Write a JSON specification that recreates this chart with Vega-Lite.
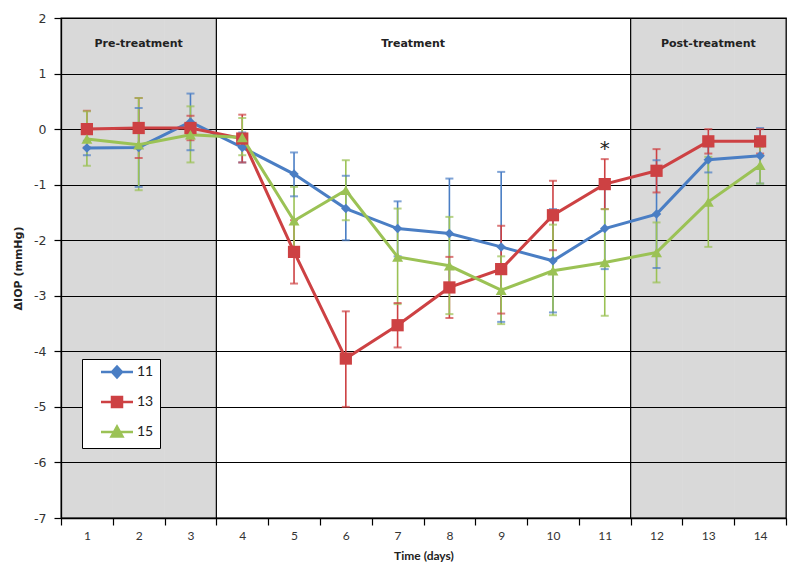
{
  "$schema": "https://vega.github.io/schema/vega-lite/v6.json",
  "width": 725,
  "height": 500,
  "autosize": "none",
  "padding": {"left": 61, "top": 18, "right": 14, "bottom": 58},
  "background": "white",
  "config": {
    "view": {"stroke": "black", "strokeWidth": 1.3},
    "axis": {"domainColor": "black", "tickColor": "black", "labelColor": "#333333", "titleColor": "#222222"},
    "legend": {
      "orient": "none", "legendX": 21, "legendY": 341,
      "fillColor": "white", "strokeColor": "black", "padding": 6,
      "symbolSize": 100, "symbolOffset": 22, "labelOffset": 13, "rowPadding": 9,
      "symbolStrokeWidth": 2.5, "symbolOpacity": 1,
      "labelFont": "Lato", "labelFontSize": 14, "labelColor": "#222222"
    }
  },
  "datasets": {
    "series": [
      {"day": 1, "series": "11", "v": -0.34, "lo": -0.47, "hi": -0.21},
      {"day": 2, "series": "11", "v": -0.33, "lo": -1.04, "hi": 0.38},
      {"day": 3, "series": "11", "v": 0.13, "lo": -0.38, "hi": 0.64},
      {"day": 4, "series": "11", "v": -0.33, "lo": -0.6, "hi": -0.06},
      {"day": 5, "series": "11", "v": -0.81, "lo": -1.21, "hi": -0.42},
      {"day": 6, "series": "11", "v": -1.43, "lo": -2.0, "hi": -0.84},
      {"day": 7, "series": "11", "v": -1.79, "lo": -2.29, "hi": -1.3},
      {"day": 8, "series": "11", "v": -1.88, "lo": -2.87, "hi": -0.89},
      {"day": 9, "series": "11", "v": -2.12, "lo": -3.47, "hi": -0.77},
      {"day": 10, "series": "11", "v": -2.37, "lo": -3.3, "hi": -1.44},
      {"day": 11, "series": "11", "v": -1.79, "lo": -2.52, "hi": -1.06},
      {"day": 12, "series": "11", "v": -1.53, "lo": -2.5, "hi": -0.56},
      {"day": 13, "series": "11", "v": -0.55, "lo": -0.78, "hi": -0.31},
      {"day": 14, "series": "11", "v": -0.48, "lo": -0.98, "hi": 0.02},
      {"day": 1, "series": "13", "v": 0.0, "lo": -0.33, "hi": 0.33},
      {"day": 2, "series": "13", "v": 0.02, "lo": -0.52, "hi": 0.56},
      {"day": 3, "series": "13", "v": 0.02, "lo": -0.2, "hi": 0.24},
      {"day": 4, "series": "13", "v": -0.17, "lo": -0.6, "hi": 0.26},
      {"day": 5, "series": "13", "v": -2.21, "lo": -2.78, "hi": -1.64},
      {"day": 6, "series": "13", "v": -4.13, "lo": -5.0, "hi": -3.28},
      {"day": 7, "series": "13", "v": -3.53, "lo": -3.93, "hi": -3.13},
      {"day": 8, "series": "13", "v": -2.85, "lo": -3.4, "hi": -2.3},
      {"day": 9, "series": "13", "v": -2.52, "lo": -3.32, "hi": -1.74},
      {"day": 10, "series": "13", "v": -1.55, "lo": -2.18, "hi": -0.93},
      {"day": 11, "series": "13", "v": -0.99, "lo": -1.44, "hi": -0.54},
      {"day": 12, "series": "13", "v": -0.75, "lo": -1.14, "hi": -0.36},
      {"day": 13, "series": "13", "v": -0.22, "lo": -0.44, "hi": 0.0},
      {"day": 14, "series": "13", "v": -0.22, "lo": -0.44, "hi": 0.0},
      {"day": 1, "series": "15", "v": -0.18, "lo": -0.66, "hi": 0.32},
      {"day": 2, "series": "15", "v": -0.28, "lo": -1.1, "hi": 0.56},
      {"day": 3, "series": "15", "v": -0.1, "lo": -0.6, "hi": 0.41},
      {"day": 4, "series": "15", "v": -0.15, "lo": -0.47, "hi": 0.2},
      {"day": 5, "series": "15", "v": -1.65, "lo": -2.25, "hi": -1.04},
      {"day": 6, "series": "15", "v": -1.1, "lo": -1.64, "hi": -0.56},
      {"day": 7, "series": "15", "v": -2.3, "lo": -3.15, "hi": -1.43},
      {"day": 8, "series": "15", "v": -2.46, "lo": -3.33, "hi": -1.58},
      {"day": 9, "series": "15", "v": -2.9, "lo": -3.51, "hi": -2.29},
      {"day": 10, "series": "15", "v": -2.55, "lo": -3.35, "hi": -1.72},
      {"day": 11, "series": "15", "v": -2.4, "lo": -3.36, "hi": -1.44},
      {"day": 12, "series": "15", "v": -2.22, "lo": -2.76, "hi": -1.68},
      {"day": 13, "series": "15", "v": -1.31, "lo": -2.12, "hi": -0.5},
      {"day": 14, "series": "15", "v": -0.65, "lo": -0.98, "hi": -0.32}
    ]
  },
  "layer": [
    {
      "data": {"values": [{"day": 1}, {"day": 2}, {"day": 3}, {"day": 12}, {"day": 13}, {"day": 14}]},
      "mark": {"type": "rect", "fill": "black", "opacity": 0.15},
      "encoding": {
        "x": {
          "field": "day", "type": "ordinal",
          "scale": {"type": "band", "domain": [1,2,3,4,5,6,7,8,9,10,11,12,13,14], "paddingInner": 0, "paddingOuter": 0},
          "axis": {
            "title": "Time (days)", "labelAngle": 0, "tickBand": "extent", "tickSize": 7, "tickWidth": 1.2,
            "domainWidth": 1.3, "labelPadding": 5, "labelFont": "Lato", "labelFontSize": 12,
            "titleFont": "Lato", "titleFontSize": 12, "titleFontWeight": "bold", "titlePadding": 9
          }
        },
        "y": {
          "datum": -7, "type": "quantitative",
          "scale": {"domain": [-7, 2], "nice": false},
          "axis": {
            "title": "ΔIOP (mmHg)", "values": [-7,-6,-5,-4,-3,-2,-1,0,1,2], "format": "d",
            "labelExpr": "replace(datum.label, '−', '-')",
            "grid": true, "gridColor": "black",
            "gridWidth": 1, "gridOpacity": 1, "tickSize": 7, "tickWidth": 1.2, "domainWidth": 1.3, "labelPadding": 8,
            "labelFont": "DejaVu Sans", "labelFontSize": 12.5, "titleFont": "DejaVu Sans", "titleFontSize": 11,
            "titleFontWeight": "bold", "titlePadding": 10
          }
        },
        "y2": {"datum": 2}
      }
    },
    {
      "data": {"values": [{"day": 4}, {"day": 12}]},
      "mark": {"type": "rule", "color": "black", "strokeWidth": 1.2},
      "encoding": {"x": {"field": "day", "type": "ordinal", "bandPosition": 0}}
    },
    {
      "data": {"values": [{"day": 2, "label": "Pre-treatment"}, {"day": 13, "label": "Post-treatment"}]},
      "mark": {"type": "text", "font": "DejaVu Sans", "fontSize": 11, "fontWeight": "bold", "color": "#222222"},
      "encoding": {
        "x": {"field": "day", "type": "ordinal"},
        "y": {"datum": 1.53, "type": "quantitative"},
        "text": {"field": "label"}
      }
    },
    {
      "data": {"values": [{"day": 7, "label": "Treatment"}]},
      "mark": {"type": "text", "font": "DejaVu Sans", "fontSize": 11, "fontWeight": "bold", "color": "#222222"},
      "encoding": {
        "x": {"field": "day", "type": "ordinal", "bandPosition": 0.8},
        "y": {"datum": 1.53, "type": "quantitative"},
        "text": {"field": "label"}
      }
    },
    {
      "data": {"name": "series"},
      "mark": {"type": "rule", "strokeWidth": 1.6},
      "encoding": {
        "x": {"field": "day", "type": "ordinal"},
        "y": {"field": "lo", "type": "quantitative"},
        "y2": {"field": "hi"},
        "color": {"field": "series", "type": "nominal", "title": null,
          "scale": {"domain": ["11", "13", "15"], "range": ["#4a7ec4", "#cd4143", "#9bc255"]}}
      }
    },
    {
      "data": {"name": "series"},
      "mark": {"type": "tick", "size": 8, "thickness": 2},
      "encoding": {
        "x": {"field": "day", "type": "ordinal"},
        "y": {"field": "lo", "type": "quantitative"},
        "color": {"field": "series", "type": "nominal", "title": null}
      }
    },
    {
      "data": {"name": "series"},
      "mark": {"type": "tick", "size": 8, "thickness": 2},
      "encoding": {
        "x": {"field": "day", "type": "ordinal"},
        "y": {"field": "hi", "type": "quantitative"},
        "color": {"field": "series", "type": "nominal", "title": null}
      }
    },
    {
      "data": {"name": "series"},
      "mark": {"type": "line", "strokeWidth": 3},
      "encoding": {
        "x": {"field": "day", "type": "ordinal"},
        "y": {"field": "v", "type": "quantitative"},
        "color": {"field": "series", "type": "nominal", "title": null}
      }
    },
    {
      "data": {"name": "series"},
      "transform": [{"filter": "datum.series === '11'"}],
      "mark": {"type": "point", "filled": true, "opacity": 1, "shape": "diamond", "size": 90},
      "encoding": {
        "x": {"field": "day", "type": "ordinal"},
        "y": {"field": "v", "type": "quantitative"},
        "color": {"field": "series", "type": "nominal", "title": null}
      }
    },
    {
      "data": {"name": "series"},
      "transform": [{"filter": "datum.series === '13'"}],
      "mark": {"type": "point", "filled": true, "opacity": 1, "shape": "square", "size": 150},
      "encoding": {
        "x": {"field": "day", "type": "ordinal"},
        "y": {"field": "v", "type": "quantitative"},
        "color": {"field": "series", "type": "nominal", "title": null}
      }
    },
    {
      "data": {"name": "series"},
      "transform": [{"filter": "datum.series === '15'"}],
      "mark": {"type": "point", "filled": true, "opacity": 1, "shape": "triangle-up", "size": 120},
      "encoding": {
        "x": {"field": "day", "type": "ordinal"},
        "y": {"field": "v", "type": "quantitative"},
        "color": {"field": "series", "type": "nominal", "title": null}
      }
    },
    {
      "data": {"name": "series"},
      "transform": [{"filter": "false"}],
      "mark": {"type": "point", "filled": true},
      "encoding": {
        "x": {"field": "day", "type": "ordinal"},
        "y": {"field": "v", "type": "quantitative"},
        "color": {"field": "series", "type": "nominal", "title": null},
        "stroke": {"field": "series", "type": "nominal", "title": null,
          "scale": {"domain": ["11", "13", "15"], "range": ["#4a7ec4", "#cd4143", "#9bc255"]}},
        "shape": {"field": "series", "type": "nominal", "title": null,
          "scale": {"domain": ["11", "13", "15"], "range": ["M-3.2,0H3.2M0,-1.1L1,0L0,1.1L-1,0Z", "M-3.2,0H3.2M-1,-1H1V1H-1Z", "M-3.2,0H3.2M0,-1.1L1.1,0.9H-1.1Z"]}}
      }
    },
    {
      "data": {"values": [{"day": 11, "y": -0.36, "label": "*"}]},
      "mark": {"type": "text", "fontSize": 20, "font": "DejaVu Sans", "color": "#222222"},
      "encoding": {
        "x": {"field": "day", "type": "ordinal"},
        "y": {"field": "y", "type": "quantitative"},
        "text": {"field": "label"}
      }
    }
  ]
}
